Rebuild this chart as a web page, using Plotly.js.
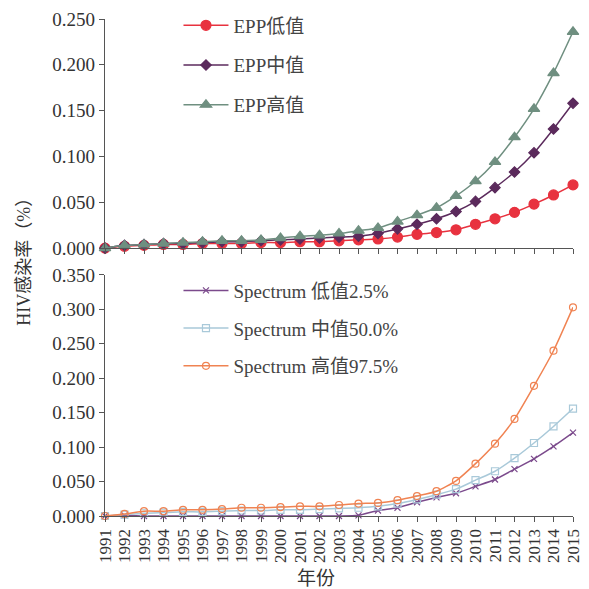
<!DOCTYPE html>
<html><head><meta charset="utf-8">
<script src="https://cdn.plot.ly/plotly-3.0.1.min.js"></script>
<style>html,body{margin:0;padding:0;background:#fff}#c{width:589px;height:589px}</style>
</head><body><div id="c"></div>
<script>
const years = [1991,1992,1993,1994,1995,1996,1997,1998,1999,2000,2001,2002,2003,2004,2005,2006,2007,2008,2009,2010,2011,2012,2013,2014,2015];
const yearLabels = years.map(String);
const eppLow  = [0,0.002,0.003,0.004,0.004,0.005,0.005,0.005,0.006,0.006,0.007,0.007,0.008,0.009,0.010,0.012,0.015,0.017,0.020,0.026,0.032,0.039,0.048,0.058,0.069];
const eppMid  = [0,0.003,0.004,0.005,0.005,0.006,0.007,0.007,0.008,0.009,0.010,0.011,0.012,0.013,0.016,0.021,0.026,0.032,0.040,0.051,0.066,0.083,0.104,0.130,0.158];
const eppHigh = [0,0.003,0.004,0.005,0.006,0.007,0.008,0.008,0.009,0.011,0.013,0.014,0.016,0.019,0.022,0.029,0.036,0.044,0.057,0.073,0.094,0.121,0.152,0.191,0.236];
const specLow  = [0,0.001,0,0,0,0,0,0,0,0,0,0,0,0.001,0.008,0.012,0.020,0.027,0.033,0.043,0.053,0.068,0.083,0.101,0.121];
const specMid  = [0,0.002,0.004,0.005,0.006,0.006,0.007,0.008,0.008,0.009,0.009,0.010,0.011,0.012,0.014,0.018,0.024,0.031,0.039,0.052,0.065,0.084,0.106,0.130,0.156];
const specHigh = [0,0.003,0.007,0.007,0.009,0.009,0.010,0.012,0.012,0.013,0.014,0.014,0.016,0.018,0.019,0.023,0.029,0.036,0.051,0.076,0.105,0.141,0.189,0.240,0.303];

const FONT = "'Liberation Serif', 'Times New Roman', 'Noto Sans CJK SC', serif";
function tr(y, name, color, sym, size, xa, ya, leg, grp, fill){
  return {x: years, y: y, name: name, type:'scatter', mode:'lines+markers',
    xaxis: xa, yaxis: ya, legend: leg, legendgroup: grp, cliponaxis:false,
    line:{color: color, width:1.5, shape:'spline', smoothing:0.6},
    marker:{symbol: sym, size: size, color: fill || color, line:{color: color, width: 1.2}}};
}
const data = [
  tr(eppLow, 'EPP低值', '#e8323f', 'circle', 10, 'x', 'y', 'legend', 'a'),
  tr(eppMid, 'EPP中值', '#5b2a5c', 'diamond', 8, 'x', 'y', 'legend', 'b'),
  tr(eppHigh, 'EPP高值', '#6f8f80', 'triangle-up', 10, 'x', 'y', 'legend', 'c'),
  tr(specLow, 'Spectrum 低值2.5%', '#7b4a8c', 'x-thin', 6, 'x2', 'y2', 'legend2', 'd'),
  tr(specMid, 'Spectrum 中值50.0%', '#a9c9d9', 'square-open', 7, 'x2', 'y2', 'legend2', 'e'),
  tr(specHigh, 'Spectrum 高值97.5%', '#f08352', 'circle-open', 7, 'x2', 'y2', 'legend2', 'f')
];
const axisCommon = {showgrid:false, zeroline:false, showline:true, linecolor:'#555', linewidth:1.2, automargin:false,
  ticks:'outside', ticklen:5, tickcolor:'#555', tickfont:{family:FONT, size:19, color:'#333'}};
const layout = {
  width:589, height:589, margin:{l:105, r:16, t:19, b:73, autoexpand:false},
  paper_bgcolor:'#fff', plot_bgcolor:'#fff',
  font:{family:FONT, color:'#333'},
  xaxis: Object.assign({}, axisCommon, {domain:[0,1], anchor:'y', range:[1991,2015], tickvals:years, showticklabels:false}),
  yaxis: Object.assign({}, axisCommon, {domain:[0.539,1], anchor:'x', range:[0,0.25], dtick:0.05, tickformat:'.3f'}),
  xaxis2: Object.assign({}, axisCommon, {domain:[0,1], anchor:'y2', range:[1991,2015], tickvals:years, ticktext:yearLabels, tickangle:-90, tickfont:{family:FONT, size:17, color:'#333'}}),
  yaxis2: Object.assign({}, axisCommon, {domain:[0,0.485], anchor:'x2', range:[0,0.35], dtick:0.05, tickformat:'.3f'}),
  legend:{x:0.157, y:0.989, yref:'container', xanchor:'left', yanchor:'top', bgcolor:'rgba(0,0,0,0)', font:{family:FONT, size:19, color:'#444'}, traceorder:'grouped', tracegroupgap:12, itemwidth:45},
  legend2:{x:0.157, y:0.539, yref:'container', xanchor:'left', yanchor:'top', bgcolor:'rgba(0,0,0,0)', font:{family:FONT, size:19, color:'#444'}, traceorder:'grouped', tracegroupgap:10, itemwidth:45},
  annotations:[
    {text:'HIV感染率（%）', xref:'paper', yref:'paper', x:-0.175, y:0.52, xanchor:'center', yanchor:'middle', textangle:-90, showarrow:false, font:{family:FONT, size:18, color:'#333'}},
    {text:'年份', xref:'paper', yref:'paper', x:0.45, y:-0.125, xanchor:'center', yanchor:'middle', showarrow:false, font:{family:FONT, size:19, color:'#333'}}
  ]
};
Plotly.newPlot('c', data, layout, {displayModeBar:false, staticPlot:true});
</script></body></html>
